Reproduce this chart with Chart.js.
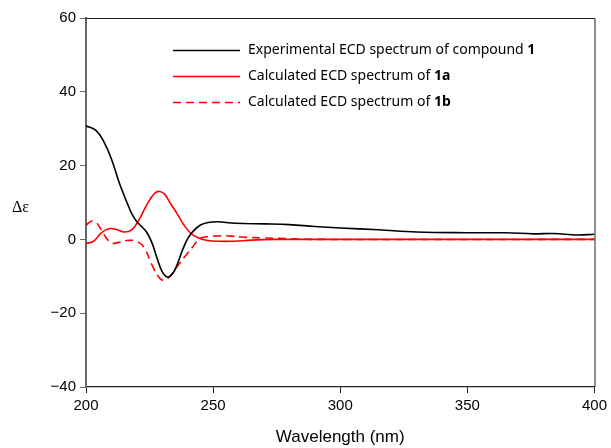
<!DOCTYPE html>
<html>
<head>
<meta charset="utf-8">
<script src="https://cdn.jsdelivr.net/npm/chart.js@4"></script>
<style>
  body { margin: 0; background: #fff; }
  #wrap { width: 611px; height: 448px; }
</style>
</head>
<body>
<div id="wrap"><canvas id="ecd"></canvas></div>
<script>
// wavelength (nm) / delta epsilon
const expX = [200, 204, 207, 210, 213, 216, 218, 220, 222, 224, 226, 228, 230, 232, 234, 236, 238, 240, 242, 245, 248, 252, 256, 262, 270, 280, 290, 300, 315, 330, 350, 365, 376, 384, 393, 400];
const expY = [30.8, 29.5, 26.5, 21.8, 15.5, 10.2, 7.0, 4.8, 3.4, 1.8, -1.0, -5.2, -8.8, -10.2, -9.4, -6.6, -2.8, 0.2, 2.1, 3.9, 4.6, 4.8, 4.5, 4.3, 4.2, 4.0, 3.5, 3.1, 2.6, 2.0, 1.8, 1.8, 1.5, 1.6, 1.2, 1.4];

const calcAX = [200, 203, 206, 209, 212, 215, 218, 221, 224, 227, 229, 231, 233, 236, 239, 242, 245, 248, 252, 258, 265, 275, 290, 400];
const calcAY = [-1.1, -0.5, 1.8, 2.9, 2.7, 2.0, 2.6, 5.5, 9.5, 12.5, 13.0, 12.2, 10.0, 6.8, 3.4, 1.2, 0.2, -0.3, -0.5, -0.5, -0.2, 0, 0, 0];

const calcBX = [200, 202, 204, 206, 208, 210, 213, 216, 220, 223, 226, 229, 231, 233, 236, 239, 242, 245, 249, 253, 257, 262, 270, 280, 290, 400];
const calcBY = [3.8, 4.9, 4.6, 2.6, 0.4, -1.0, -0.8, -0.3, -0.5, -2.4, -7.0, -10.5, -11.1, -10.0, -7.2, -4.6, -2.0, 0.3, 0.8, 1.0, 0.9, 0.6, 0.4, 0.2, 0, 0];

const xTicks = [200, 250, 300, 350, 400];
const yTicks = [-40, -20, 0, 20, 40, 60];

const legendItems = [
  { text: "Experimental ECD spectrum of compound ", bold: "1" },
  { text: "Calculated ECD spectrum of ", bold: "1a" },
  { text: "Calculated ECD spectrum of ", bold: "1b" }
];

function pts(xs, ys) {
  return xs.map((x, i) => ({ x: x, y: ys[i] }));
}

const minus = v => String(v).replace("-", "\u2212");

// frame, delta-epsilon label and the in-plot legend
const decor = {
  id: "decor",
  afterDraw(chart) {
    const ctx = chart.ctx;
    const a = chart.chartArea;
    ctx.save();
    ctx.strokeStyle = "#222";
    ctx.lineWidth = 1;
    ctx.beginPath();
    ctx.moveTo(a.left, a.top + 0.5);
    ctx.lineTo(a.right + 0.5, a.top + 0.5);
    ctx.lineTo(a.right + 0.5, a.bottom);
    ctx.stroke();

    ctx.fillStyle = "#000";
    ctx.font = "16px 'Liberation Serif', serif";
    ctx.textBaseline = "middle";
    ctx.textAlign = "left";
    ctx.fillText("\u0394\u03b5", 12, 208);

    const ys = [50, 76, 102];
    chart.data.datasets.forEach((ds, i) => {
      const y = ys[i] + 0.5;
      ctx.strokeStyle = ds.borderColor;
      ctx.lineWidth = 1.6;
      ctx.setLineDash(ds.borderDash || []);
      ctx.beginPath();
      ctx.moveTo(173, y);
      ctx.lineTo(240, y);
      ctx.stroke();
      ctx.setLineDash([]);
      const it = legendItems[i];
      ctx.font = "14px 'Noto Sans', sans-serif";
      ctx.fillStyle = "#000";
      ctx.fillText(it.text, 248, y);
      const w = ctx.measureText(it.text).width;
      ctx.font = "bold 14px 'Noto Sans', sans-serif";
      ctx.fillText(it.bold, 248 + w, y);
    });
    ctx.restore();
  }
};

new Chart(document.getElementById("ecd"), {
  type: "line",
  data: {
    datasets: [
      { label: "Experimental", data: pts(expX, expY), borderColor: "#000000", borderWidth: 1.6, tension: 0.4 },
      { label: "1a", data: pts(calcAX, calcAY), borderColor: "#ff0000", borderWidth: 1.6, tension: 0.4 },
      { label: "1b", data: pts(calcBX, calcBY), borderColor: "#ff0000", borderWidth: 1.6, borderDash: [8, 5], tension: 0.4 }
    ]
  },
  options: {
    responsive: true,
    maintainAspectRatio: false,
    animation: false,
    layout: { padding: { left: 0, right: 13, top: 18, bottom: 0 } },
    elements: { point: { radius: 0 } },
    plugins: { legend: { display: false }, tooltip: { enabled: false } },
    scales: {
      x: {
        type: "linear",
        min: 200, max: 400,
        afterBuildTicks: s => { s.ticks = xTicks.map(v => ({ value: v })); },
        afterFit: s => { s.height = 61; },
        grid: { drawOnChartArea: false, drawTicks: true, tickLength: 6, color: "#222" },
        border: { color: "#222", width: 1.2 },
        ticks: { color: "#000", font: { family: "'Liberation Sans', Arial", size: 15 }, padding: 4, maxRotation: 0 },
        title: { display: true, text: "Wavelength (nm)", color: "#000", font: { family: "'Liberation Sans', Arial", size: 17 }, padding: { top: 10, bottom: 0 } }
      },
      y: {
        min: -40, max: 60,
        afterBuildTicks: s => { s.ticks = yTicks.map(v => ({ value: v })); },
        afterFit: s => { s.width = 86; },
        grid: { drawOnChartArea: false, drawTicks: true, tickLength: 6, color: "#666" },
        border: { color: "#666", width: 2 },
        ticks: { color: "#000", font: { family: "'Liberation Sans', Arial", size: 15 }, padding: 4, callback: v => minus(v) }
      }
    }
  },
  plugins: [decor]
});
</script>
</body>
</html>
